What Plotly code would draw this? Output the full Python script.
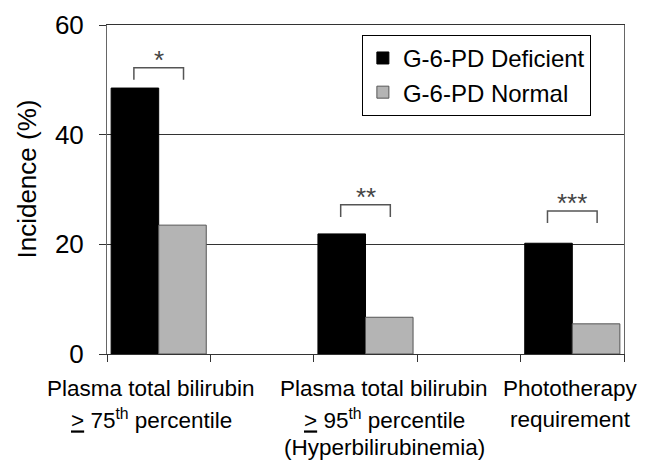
import plotly.graph_objects as go

# ---- data ----
positions = [0, 2, 4]
deficient = [48.5, 21.9, 20.2]
normal = [23.5, 6.7, 5.5]
series_names = ["G-6-PD Deficient", "G-6-PD Normal"]
category_lines = [
    ["Plasma total bilirubin", "<u>></u> 75<sup>th</sup> percentile"],
    ["Plasma total bilirubin", "<u>></u> 95<sup>th</sup> percentile", "(Hyperbilirubinemia)"],
    ["Phototherapy", "requirement"],
]
label_x = [-0.07, 2.18, 3.98]
sig_marks = ["*", "**", "***"]
bracket_top = [52.2, 27.2, 26.1]
bracket_drop = 2.2
y_ticks = [0, 20, 40, 60]
x_boundaries = [-0.5, 0.5, 1.5, 2.5, 3.5, 4.5]

FONT = "Liberation Sans, Arial, sans-serif"
W = 0.46
line_offsets = [-34, -65, -93]

fig = go.Figure()
fig.add_trace(go.Bar(x=positions, y=deficient, name=series_names[0],
                     width=W, offset=-W,
                     marker=dict(color="#000000", line=dict(color="#000000", width=1))))
fig.add_trace(go.Bar(x=positions, y=normal, name=series_names[1],
                     width=W, offset=0,
                     marker=dict(color="#b4b4b4", line=dict(color="#555555", width=1))))

shapes = []
annotations = []
for p, top, mark in zip(positions, bracket_top, sig_marks):
    x0, x1 = p - 0.24, p + 0.24
    shapes.append(dict(type="path", xref="x", yref="y",
                       path=f"M {x0},{top - bracket_drop} L {x0},{top} L {x1},{top} L {x1},{top - bracket_drop}",
                       line=dict(color="#555555", width=1.5)))
    annotations.append(dict(x=p, y=top + 1.4, xref="x", yref="y", text=mark,
                            showarrow=False, yanchor="middle",
                            font=dict(family=FONT, size=26, color="#444444")))

for lx, lines in zip(label_x, category_lines):
    for ln, off in zip(lines, line_offsets):
        annotations.append(dict(x=lx, y=0, xref="x", yref="paper", text=ln,
                                showarrow=False, yanchor="middle", yshift=off,
                                font=dict(family=FONT, size=22.5, color="#000000")))

annotations.append(dict(x=-0.155, y=0.533, xref="paper", yref="paper",
                        text="Incidence (%)", textangle=-90, showarrow=False,
                        xanchor="center", yanchor="middle",
                        font=dict(family=FONT, size=26, color="#000000")))

fig.update_layout(
    width=651, height=460,
    margin=dict(l=107, r=27, t=25, b=106, autoexpand=False),
    paper_bgcolor="white", plot_bgcolor="white",
    barmode="overlay",
    showlegend=True,
    legend=dict(x=0.493, y=0.97, xanchor="left", yanchor="top",
                bordercolor="#000000", borderwidth=1, bgcolor="white",
                font=dict(family=FONT, size=24, color="#000000"),
                tracegroupgap=0),
    shapes=shapes,
    annotations=annotations,
    xaxis=dict(range=[-0.5, 4.5], tickvals=x_boundaries, showticklabels=False,
               ticks="outside", ticklen=7, tickcolor="#333333",
               showline=True, linecolor="#333333", linewidth=1, mirror=True,
               showgrid=False, zeroline=False, automargin=False),
    yaxis=dict(range=[0, 60], tickvals=y_ticks, ticks="outside", ticklen=7,
               tickcolor="#333333", showline=True, linecolor="#666666", linewidth=1,
               mirror=True, showgrid=True, gridcolor="#333333", gridwidth=1,
               zeroline=False, ticklabelstandoff=10, automargin=False,
               tickfont=dict(family=FONT, size=26, color="#000000")),
)

fig.write_html("out.html", config={"displayModeBar": False},
               post_script="document.body.style.margin='0';")
